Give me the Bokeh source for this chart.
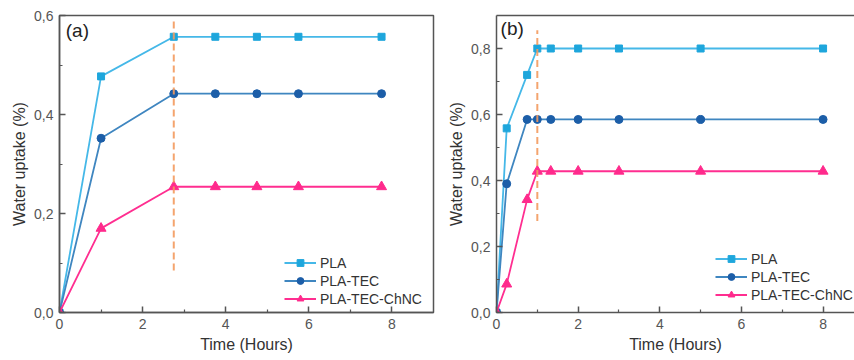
from bokeh.plotting import figure
from bokeh.layouts import row
from bokeh.models import FixedTicker, Legend, LegendItem, Label, LinearAxis, Range1d
from bokeh.embed import file_html
from bokeh.resources import INLINE

# ---------------- data ----------------
series_names = ["PLA", "PLA-TEC", "PLA-TEC-ChNC"]

# panel (a)
time_a = [0, 1, 2.75, 3.75, 4.75, 5.75, 7.75]
pla_a = [0, 0.477, 0.557, 0.557, 0.557, 0.557, 0.557]
tec_a = [0, 0.352, 0.442, 0.442, 0.442, 0.442, 0.442]
chnc_a = [0, 0.170, 0.254, 0.254, 0.254, 0.254, 0.254]
dash_a_x = [2.75]
dash_a_y0 = [0.085]
dash_a_y1 = [0.59]

# panel (b)
time_b = [0, 0.25, 0.75, 1, 1.33, 2, 3, 5, 8]
pla_b = [0, 0.558, 0.72, 0.80, 0.80, 0.80, 0.80, 0.80, 0.80]
tec_b = [0, 0.39, 0.585, 0.585, 0.585, 0.585, 0.585, 0.585, 0.585]
chnc_b = [0, 0.086, 0.342, 0.428, 0.428, 0.428, 0.428, 0.428, 0.428]
dash_b_x = [1.0]
dash_b_y0 = [0.277]
dash_b_y1 = [0.855]

# ticks
x_ticks = [0, 2, 4, 6, 8]
x_tick_labels = ["0", "2", "4", "6", "8"]
x_minor = [1, 3, 5, 7]
y_ticks_a = [0.0, 0.2, 0.4, 0.6]
y_tick_labels_a = ["0,0", "0,2", "0,4", "0,6"]
y_minor_a = [0.1, 0.3, 0.5]
y_ticks_b = [0.0, 0.2, 0.4, 0.6, 0.8]
y_tick_labels_b = ["0,0", "0,2", "0,4", "0,6", "0,8"]
y_minor_b = [0.1, 0.3, 0.5, 0.7]

x_title = "Time (Hours)"
y_title = "Water uptake (%)"

# ---------------- style ----------------
FONT = "Liberation Sans"
AX = "#555555"
LINE_COLORS = ["#45b8e8", "#3f86c0", "#ff2e90"]
MARK_COLORS = ["#1ea6dc", "#1c5ea8", "#ff2a8c"]
MARKERS = ["square", "circle", "triangle"]
MSIZES = [7, 8, 10]
DASH_COLOR = "#f39a5e"


def style_axis(ax, ticks, labels, minors, title, lab_standoff, title_standoff):
    ax.ticker = FixedTicker(ticks=ticks, minor_ticks=minors)
    ax.major_label_overrides = {t: l for t, l in zip(ticks, labels)}
    ax.major_tick_in = 6
    ax.major_tick_out = 0
    ax.minor_tick_in = 3
    ax.minor_tick_out = 0
    ax.axis_line_color = AX
    ax.axis_line_width = 1.5
    ax.major_tick_line_color = AX
    ax.major_tick_line_width = 1.5
    ax.minor_tick_line_color = AX
    ax.minor_tick_line_width = 1.2
    ax.major_label_text_font = FONT
    ax.major_label_text_font_size = "14px"
    ax.major_label_text_color = "#555555"
    ax.major_label_standoff = lab_standoff
    ax.axis_label = title
    ax.axis_label_text_font = FONT
    ax.axis_label_text_font_size = "16px"
    ax.axis_label_text_font_style = "normal"
    ax.axis_label_text_color = "#333333"
    ax.axis_label_standoff = title_standoff


def make_panel(width, xmax, ymax, borders, xs, ys_list, dash, y_ticks, y_labels, y_minor,
               tag, tag_xy, legend_loc, full_box):
    p = figure(width=width, height=360, x_range=Range1d(0, xmax), y_range=Range1d(0, ymax),
               output_backend="svg", toolbar_location=None,
               min_border_left=borders[0], min_border_right=borders[1],
               min_border_top=borders[2], min_border_bottom=borders[3])
    p.xgrid.grid_line_color = None
    p.ygrid.grid_line_color = None
    p.background_fill_color = "white"
    p.border_fill_color = "white"
    style_axis(p.xaxis[0], x_ticks, x_tick_labels, x_minor, x_title, 6, 4)
    style_axis(p.yaxis[0], y_ticks, y_labels, y_minor, y_title, 6, 3)
    if full_box:
        p.outline_line_color = AX
        p.outline_line_width = 1.5
        p.outline_line_alpha = 1.0
    else:
        p.outline_line_color = None
        top = LinearAxis(ticker=FixedTicker(ticks=[]), major_tick_in=0, major_tick_out=0,
                         minor_tick_in=0, minor_tick_out=0, axis_line_color=AX,
                         axis_line_width=1.5, major_label_text_font_size="0px")
        p.add_layout(top, "above")

    items = []
    for name, ys, lc, mc, mk, ms in zip(series_names, ys_list, LINE_COLORS, MARK_COLORS, MARKERS, MSIZES):
        r1 = p.line(xs, ys, line_color=lc, line_width=1.8)
        r2 = p.scatter(xs, ys, marker=mk, size=ms, fill_color=mc, line_color=mc)
        items.append(LegendItem(label=name, renderers=[r1, r2]))

    p.segment(x0=dash[0], y0=dash[1], x1=dash[0], y1=dash[2], line_color=DASH_COLOR,
              line_width=2, line_dash="7 4", line_alpha=0.9)

    legend = Legend(items=items, location=legend_loc, border_line_color=None,
                    background_fill_alpha=0, padding=0, margin=0, spacing=1,
                    glyph_width=32, glyph_height=17, label_height=17, label_standoff=4,
                    label_text_font=FONT, label_text_font_size="14px", label_text_color="#333333")
    p.add_layout(legend)

    p.add_layout(Label(x=tag_xy[0], y=tag_xy[1], text=tag, text_font=FONT, text_font_size="19px",
                       text_color="#222222", text_baseline="middle", text_align="left"))
    return p


p1 = make_panel(445, 9.0, 0.6, (59, 12, 15, 45), time_a, [pla_a, tec_a, chnc_a],
                (dash_a_x, dash_a_y0, dash_a_y1), y_ticks_a, y_tick_labels_a, y_minor_a,
                "(a)", (0.15, 0.57), (225, 5), True)
p2 = make_panel(409, 8.77, 0.9, (48, 0, 13, 48), time_b, [pla_b, tec_b, chnc_b],
                (dash_b_x, dash_b_y0, dash_b_y1), y_ticks_b, y_tick_labels_b, y_minor_b,
                "(b)", (0.1, 0.86), (219, 9), False)

layout = row(p1, p2)
open("out.html", "w").write(file_html(layout, INLINE))
